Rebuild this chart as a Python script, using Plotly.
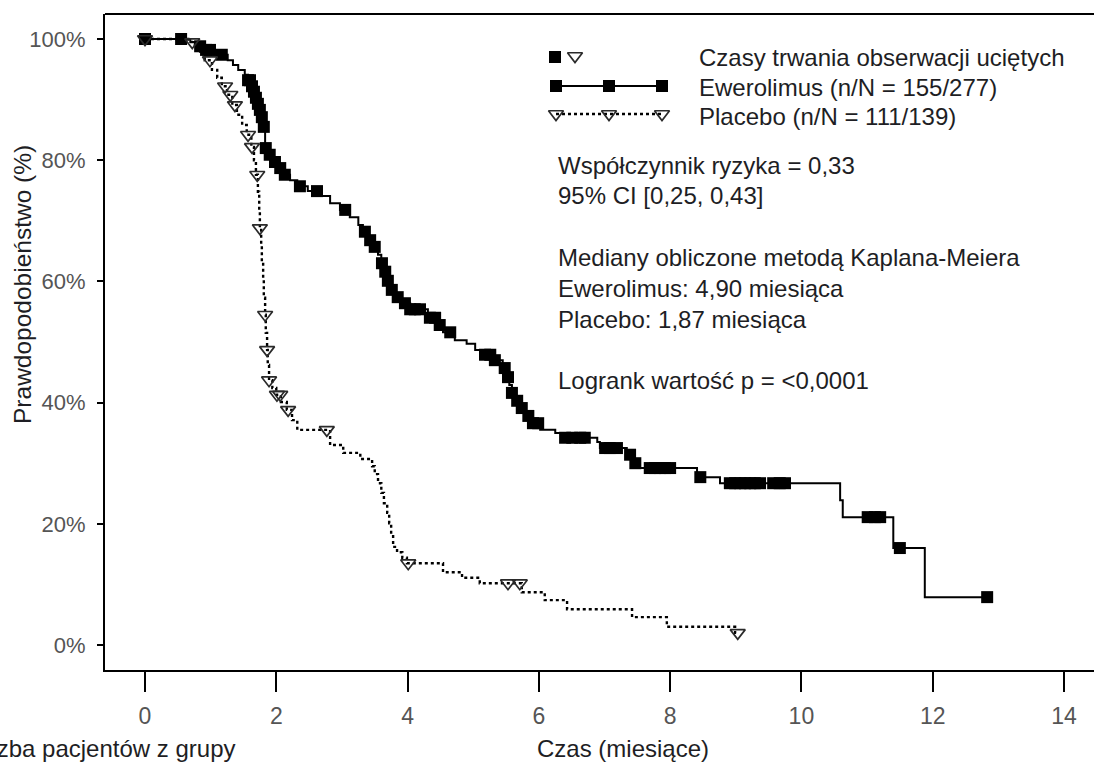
import numpy as np
import plotly.graph_objects as go

# ---------------- data (months, % survival) ----------------
EVE_TIMES = [0.69, 0.81, 0.91, 1.02, 1.26, 1.34, 1.42, 1.52, 1.57, 1.62, 1.65, 1.69, 1.72,
             1.75, 1.78, 1.81, 1.83, 1.87, 1.94, 2.00, 2.09, 2.21, 2.32, 2.48, 2.67, 2.82,
             2.97, 3.12, 3.25, 3.32, 3.40, 3.47, 3.55, 3.60, 3.64, 3.69, 3.73, 3.81, 3.90,
             4.04, 4.31, 4.43, 4.54, 4.72, 4.90, 5.03, 5.15, 5.33, 5.45, 5.50, 5.55, 5.59,
             5.64, 5.71, 5.79, 5.87, 6.02, 6.25, 6.37, 6.89, 6.93, 7.34, 7.42, 7.54, 8.41,
             8.76, 10.59, 10.63, 11.40, 11.88]
EVE_SURV = [99.5, 98.8, 98.2, 97.4, 96.5, 95.7, 94.9, 94.1, 93.2, 92.2, 91.3, 90.3, 89.3,
            88.3, 87.1, 85.5, 82.0, 80.9, 79.7, 78.7, 77.6, 76.7, 75.7, 74.9, 74.1, 72.9,
            71.8, 70.6, 69.3, 68.2, 66.8, 65.7, 64.4, 63.0, 61.6, 60.1, 58.6, 57.4, 56.4,
            55.4, 54.0, 52.8, 51.6, 50.3, 49.7, 48.7, 47.9, 47.0, 45.7, 44.2, 42.9, 41.6,
            40.3, 39.1, 37.8, 36.6, 35.5, 35.0, 34.2, 33.5, 32.5, 31.4, 30.0, 29.2, 27.7,
            26.7, 23.9, 21.1, 16.0, 7.9]
EVE_END = 12.83
EVE_CENSOR = [0.0, 0.55, 0.84, 0.93, 0.99, 1.17, 1.57, 1.60, 1.63, 1.66, 1.69, 1.72, 1.75,
              1.78, 1.81, 1.84, 1.90, 1.98, 2.06, 2.13, 2.36, 2.62, 3.05, 3.35, 3.43, 3.50,
              3.61, 3.66, 3.70, 3.76, 3.85, 3.96, 4.04, 4.11, 4.19, 4.34, 4.42, 4.49, 4.65,
              5.18, 5.26, 5.33, 5.48, 5.53, 5.59, 5.67, 5.74, 5.84, 5.91, 5.99, 6.40, 6.51,
              6.63, 6.70, 7.01, 7.08, 7.19, 7.39, 7.47, 7.69, 7.77, 7.85, 7.92, 8.00, 8.46,
              8.91, 8.99, 9.07, 9.14, 9.22, 9.29, 9.37, 9.57, 9.67, 9.75, 11.01, 11.12,
              11.20, 11.50, 12.83]

PLA_TIMES = [0.66, 0.76, 0.84, 0.91, 1.02, 1.10, 1.17, 1.25, 1.33, 1.40, 1.48, 1.55, 1.62,
             1.66, 1.69, 1.72, 1.74, 1.75, 1.77, 1.78, 1.80, 1.81, 1.83, 1.84, 1.86, 1.87,
             1.89, 1.94, 2.00, 2.07, 2.16, 2.24, 2.32, 2.82, 3.02, 3.28, 3.46, 3.50, 3.55,
             3.60, 3.64, 3.69, 3.72, 3.75, 3.78, 3.84, 3.92, 3.99, 4.54, 4.83, 5.10, 5.74,
             6.09, 6.43, 7.42, 7.95, 8.99]
PLA_SURV = [99.5, 98.5, 97.5, 96.5, 94.9, 93.6, 92.2, 90.8, 89.1, 87.5, 85.8, 84.2, 82.2,
            80.0, 77.6, 74.8, 71.8, 68.8, 66.0, 63.2, 60.2, 57.3, 54.5, 51.5, 48.7, 46.2,
            43.7, 42.4, 41.3, 40.1, 38.8, 37.1, 35.5, 33.0, 31.7, 30.7, 29.5, 28.2, 26.7,
            25.1, 23.4, 21.8, 20.1, 18.2, 16.2, 15.3, 14.4, 13.5, 12.0, 11.1, 10.2, 8.7,
            7.4, 5.9, 4.6, 3.0, 2.0]
PLA_END = 9.03
PLA_CENSOR = [0.0, 0.72, 0.99, 1.22, 1.30, 1.37, 1.57, 1.63, 1.71, 1.75, 1.83, 1.86, 1.89,
              2.01, 2.06, 2.18, 2.77, 4.01, 5.53, 5.71, 9.03]

X_TICKS = [0, 2, 4, 6, 8, 10, 12, 14]
Y_TICKS = [0, 20, 40, 60, 80, 100]
Y_TICK_TEXT = ["0%", "20%", "40%", "60%", "80%", "100%"]

LEGEND_LINES = ["Czasy trwania obserwacji uciętych",
                "Ewerolimus (n/N = 155/277)",
                "Placebo (n/N = 111/139)"]
STATS_LINES = ["Współczynnik ryzyka = 0,33", "95% CI [0,25, 0,43]", "",
               "Mediany obliczone metodą Kaplana-Meiera", "Ewerolimus: 4,90 miesiąca",
               "Placebo: 1,87 miesiąca", "", "Logrank wartość p = <0,0001"]

# ---------------- layout geometry (pixels) ----------------
W, H = 1094, 763
L, R, T, B = 105, 1094, 14, 670
FONT = "Liberation Sans, Arial, sans-serif"
TXT = "#1e1e24"
GREY = "#555555"
TXT_SIZE = 24


def step_value(times, surv, t):
    times = np.asarray(times)
    surv = np.concatenate([[100.0], np.asarray(surv)])
    idx = np.searchsorted(times, t, side="right")
    return surv[idx]


def curve(times, surv, end):
    xs = [0.0] + list(times) + [end]
    ys = [100.0] + list(surv) + [surv[-1]]
    return xs, ys


def paper(px, py):
    return (px - L) / (R - L), (B - py) / (B - T)


TRI = dict(symbol="triangle-down-open", size=13, color="#2a2a2a", line=dict(width=1.7))
SQ = dict(symbol="square", size=12, color="black")

fig = go.Figure()

ex, ey = curve(EVE_TIMES, EVE_SURV, EVE_END)
plx, ply = curve(PLA_TIMES, PLA_SURV, PLA_END)

fig.add_trace(go.Scatter(x=plx, y=ply, mode="lines", line_shape="hv",
                         line=dict(color="black", width=2.4, dash="dot"),
                         showlegend=False, hoverinfo="skip"))
fig.add_trace(go.Scatter(x=ex, y=ey, mode="lines", line_shape="hv",
                         line=dict(color="black", width=2),
                         showlegend=False, hoverinfo="skip"))

ec = np.array(EVE_CENSOR)
fig.add_trace(go.Scatter(x=ec, y=step_value(EVE_TIMES, EVE_SURV, ec), mode="markers",
                         marker=SQ, showlegend=False, hoverinfo="skip"))
pc = np.array(PLA_CENSOR)
fig.add_trace(go.Scatter(x=pc, y=step_value(PLA_TIMES, PLA_SURV, pc), mode="markers",
                         marker=TRI, showlegend=False, hoverinfo="skip"))

# ---------------- custom legend glyphs (pixel overlay axes) ----------------
LEG_ROW_Y = [56, 86, 114]
LEG_SAMPLE_X = [556, 609, 662]
fig.add_trace(go.Scatter(x=[555], y=[LEG_ROW_Y[0] + 1], mode="markers", xaxis="x2", yaxis="y2",
                         marker=SQ, showlegend=False, hoverinfo="skip"))
fig.add_trace(go.Scatter(x=[575], y=[LEG_ROW_Y[0]], mode="markers", xaxis="x2", yaxis="y2",
                         marker=TRI, showlegend=False, hoverinfo="skip"))
fig.add_trace(go.Scatter(x=LEG_SAMPLE_X, y=[LEG_ROW_Y[1]] * 3, mode="lines+markers",
                         xaxis="x2", yaxis="y2", line=dict(color="black", width=2),
                         marker=SQ, showlegend=False, hoverinfo="skip"))
fig.add_trace(go.Scatter(x=LEG_SAMPLE_X, y=[LEG_ROW_Y[2]] * 3, mode="lines+markers",
                         xaxis="x2", yaxis="y2", line=dict(color="black", width=2.4, dash="dot"),
                         marker=TRI, showlegend=False, hoverinfo="skip"))

annotations = []
for txt, yy in zip(LEGEND_LINES, [57, 87, 117]):
    x0, y0 = paper(697, yy)
    annotations.append(dict(x=x0, y=y0, xref="paper", yref="paper", text=txt,
                            xanchor="left", yanchor="middle", showarrow=False,
                            font=dict(family=FONT, size=TXT_SIZE, color=TXT)))
for i, txt in enumerate(STATS_LINES):
    if not txt:
        continue
    x0, y0 = paper(556, 165 + i * 30.8)
    annotations.append(dict(x=x0, y=y0, xref="paper", yref="paper", text=txt,
                            xanchor="left", yanchor="middle", showarrow=False,
                            font=dict(family=FONT, size=TXT_SIZE, color=TXT)))

x0, y0 = paper(22, 285)
annotations.append(dict(x=x0, y=y0, xref="paper", yref="paper", text="Prawdopodobieństwo (%)",
                        textangle=-90, xanchor="center", yanchor="middle", showarrow=False,
                        font=dict(family=FONT, size=24.5, color=TXT)))
x0, y0 = paper(623, 748)
annotations.append(dict(x=x0, y=y0, xref="paper", yref="paper", text="Czas (miesiące)",
                        xanchor="center", yanchor="middle", showarrow=False,
                        font=dict(family=FONT, size=TXT_SIZE, color=TXT)))
x0, y0 = paper(237, 748)
annotations.append(dict(x=x0, y=y0, xref="paper", yref="paper", text="Liczba pacjentów z grupy",
                        xanchor="right", yanchor="middle", showarrow=False,
                        font=dict(family=FONT, size=TXT_SIZE, color=TXT)))

fig.update_layout(
    width=W, height=H,
    margin=dict(l=L, r=W - R, t=T, b=H - B, pad=0),
    paper_bgcolor="white", plot_bgcolor="white",
    showlegend=False,
    xaxis=dict(range=[(L - 145) / 65.64, (R - 145) / 65.64], tickvals=X_TICKS,
               showgrid=False, zeroline=False, showline=True, linecolor="black", linewidth=2,
               ticks="outside", ticklen=20, tickwidth=2, tickcolor="black",
               ticklabelstandoff=4,
               tickfont=dict(family=FONT, size=23, color=GREY)),
    yaxis=dict(range=[(645 - B) / 6.06, (645 - T) / 6.06], tickvals=Y_TICKS, ticktext=Y_TICK_TEXT,
               showgrid=False, zeroline=False, showline=True, linecolor="black", linewidth=2,
               ticks="outside", ticklen=6, tickwidth=2, tickcolor="black",
               ticklabelstandoff=7,
               tickfont=dict(family=FONT, size=22, color=GREY)),
    xaxis2=dict(range=[L, R], overlaying="x", visible=False, fixedrange=True),
    yaxis2=dict(range=[B, T], overlaying="y", visible=False, fixedrange=True),
    shapes=[dict(type="line", xref="paper", yref="paper", x0=0, x1=1, y0=1, y1=1,
                 line=dict(color="black", width=2))],
    annotations=annotations,
)

fig.write_html("out.html")
